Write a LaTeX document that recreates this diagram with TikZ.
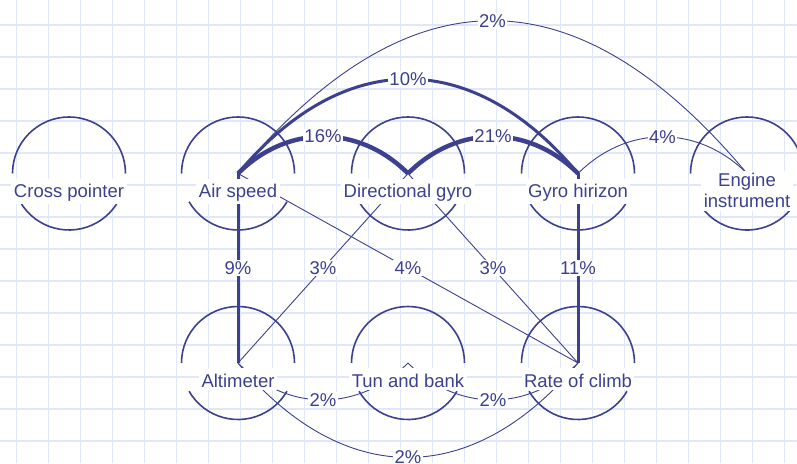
\documentclass[tikz,border=0pt]{standalone}
\usepackage{fontspec}
\setmainfont{Liberation Sans}
\definecolor{ink}{RGB}{61,64,143}
\definecolor{gridblue}{RGB}{224,231,250}
\tikzset{
  every node/.style={font=\fontsize{18.5}{21}\selectfont, text=ink},
  rim/.style={ink, line width=1.6pt},
  link thin/.style={ink, line width=0.9pt},
  link mid/.style={ink, line width=3pt},
  link thick/.style={ink, line width=4.5pt},
  pct/.style={fill=white, inner sep=1.5pt},
  inst/.style={fill=white, inner sep=2.5pt, text height=16.5pt, anchor=base},
  gridline/.style={gridblue, line width=1.3pt}
}
\begin{document}
\begin{tikzpicture}[x=1pt,y=1pt]
  \useasboundingbox (0,0) rectangle (797,463);
  \fill[white] (0,0) rectangle (797,463);

  % Raster
  \foreach \i in {0,...,24}
    \draw[gridline] ({16.7+32*\i},0) -- ({16.7+32*\i},463);
  \foreach \i in {0,...,13}
    \draw[gridline] (0,{438-32*\i}) -- (797,{438-32*\i});

  % Instrumente
  \coordinate (cp) at (69,289.5);
  \coordinate (as) at (238,289.5);
  \coordinate (dg) at (408,289.5);
  \coordinate (gh) at (578,289.5);
  \coordinate (ei) at (747,289.5);
  \coordinate (al) at (238,100);
  \coordinate (tb) at (408,100);
  \coordinate (rc) at (578,100);

  \foreach \c/\g in {cp/30,as/30,dg/30,gh/30,ei/40,al/30,tb/30,rc/30} {
    \draw[rim] (\c) ++(0:56.5) arc[start angle=0,end angle=180,radius=56.5];
    \draw[rim] (\c) ++(180+\g:56.5) arc[start angle=180+\g,end angle=360-\g,radius=56.5];
  }

  % Blickwechsel
  \draw[link thin] (as) -- (rc) node[pct,midway] {4\%};
  \draw[link thin] (dg) -- (al) node[pct,midway] {3\%};
  \draw[link thin] (dg) -- (rc) node[pct,midway] {3\%};
  \draw[link thin] (as) to[bend left=50,looseness=1.34] node[pct] {2\%} (ei);
  \draw[link thin] (gh) to[bend left=45,looseness=1.05] node[pct] {4\%} (ei);
  \draw[link thin] (al) to[bend right=45,looseness=1.05] node[pct] {2\%} (tb);
  \draw[link thin] (tb) to[bend right=45,looseness=1.05] node[pct] {2\%} (rc);
  \draw[link thin] (al) to[bend right=50,looseness=1.24] node[pct] {2\%} (rc);

  \draw[link mid] (as) -- (al) node[pct,midway] {9\%};
  \draw[link mid] (gh) -- (rc) node[pct,midway] {11\%};
  \draw[link mid] (as) to[bend left=50,looseness=1.24] node[pct] {10\%} (gh);

  \draw[link thick] (as) to[bend left=45,looseness=1.05] node[pct] {16\%} (dg);
  \draw[link thick] (dg) to[bend left=45,looseness=1.05] node[pct] {21\%} (gh);

  % Beschriftung
  \path (cp) ++(0,-24.5) node[inst] (cp-t) {Cross pointer};
  \path (as) ++(0,-24.5) node[inst] (as-t) {Air speed};
  \path (dg) ++(0,-24.5) node[inst] (dg-t) {Directional gyro};
  \path (gh) ++(0,-24.5) node[inst] (gh-t) {Gyro hirizon};
  \path (ei) ++(0,-17.3) node[fill=white,inner sep=2.5pt,align=center] (ei-t) {Engine\\instrument};
  \path (al) ++(0,-24) node[inst] (al-t) {Altimeter};
  \path (tb) ++(0,-24) node[inst] (tb-t) {Tun and bank};
  \path (rc) ++(0,-24) node[inst] (rc-t) {Rate of climb};
\end{tikzpicture}
\end{document}
